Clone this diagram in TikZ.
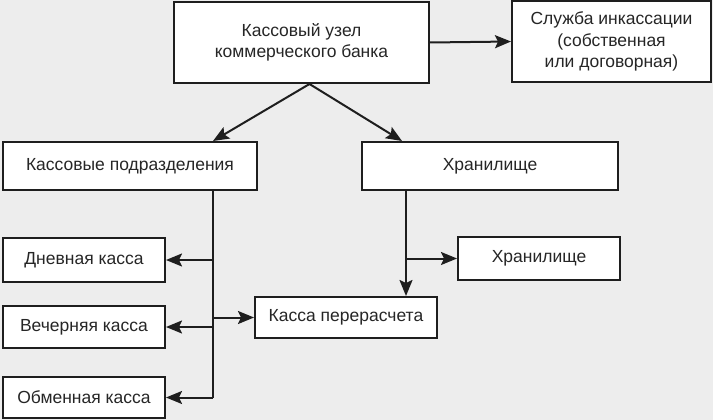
\documentclass[tikz,border=0pt]{standalone}
\usepackage{fontspec}
\setmainfont{Liberation Sans}
\usetikzlibrary{arrows.meta}
\definecolor{ink}{HTML}{1E1E1E}
\definecolor{txt}{HTML}{262626}
\definecolor{paper}{HTML}{EDEDED}
\tikzset{
  box/.style={draw=ink, line width=2pt, fill=white, text=txt, align=center,
    inner sep=0pt, font=\fontsize{17.5}{21.5}\selectfont},
  arr/.style={draw=ink, line width=2pt, -{Stealth[length=16pt,width=13pt,inset=3pt]}},
  ln/.style={draw=ink, line width=2pt}
}
\begin{document}
\begin{tikzpicture}[x=1pt,y=-1pt]
\fill[paper] (0,0) rectangle (713,420);
\useasboundingbox (0,0) rectangle (713,420);
\node[box, minimum width=255pt, minimum height=81pt] (top) at (301.5,42.5) {Кассовый узел\\коммерческого банка};
\node[box, minimum width=199pt, minimum height=81pt] (serv) at (611.5,41.5) {Служба инкассации\\(собственная\\или договорная)};
\node[box, minimum width=254pt, minimum height=48pt] (kp) at (130,166) {Кассовые подразделения};
\node[box, minimum width=256pt, minimum height=48pt] (khr1) at (490,166) {Хранилище};
\node[box, minimum width=162pt, minimum height=44pt] (dn) at (84,260) {Дневная касса};
\node[box, minimum width=162pt, minimum height=42pt] (vech) at (84,327) {Вечерняя касса};
\node[box, minimum width=162pt, minimum height=41pt] (obm) at (84,397.5) {Обменная касса};
\node[box, minimum width=182pt, minimum height=41pt] (kper) at (346,317.5) {Касса перерасчета};
\node[box, minimum width=162pt, minimum height=43pt] (khr2) at (539,258.5) {Хранилище};

\draw[arr] (top.east) -- (serv.west);
\coordinate (ts) at ([xshift=8pt]top.south);
\draw[arr] (ts) -- ([xshift=83pt]kp.north);
\draw[arr] (ts) -- ([xshift=-88pt]khr1.north);

\coordinate (kpx) at ([xshift=83pt]kp.south);
\draw[ln] (kpx) -- (kpx |- obm.east);
\draw[arr] (kpx |- dn.east) -- (dn.east);
\draw[arr] (kpx |- vech.east) -- (vech.east);
\draw[arr] (kpx |- obm.east) -- (obm.east);
\draw[arr] (kpx |- kper.west) -- (kper.west);

\coordinate (khx) at ([xshift=-84pt]khr1.south);
\draw[arr] (khx) -- (khx |- kper.north);
\draw[arr] (khx |- khr2.west) -- (khr2.west);
\end{tikzpicture}
\end{document}
